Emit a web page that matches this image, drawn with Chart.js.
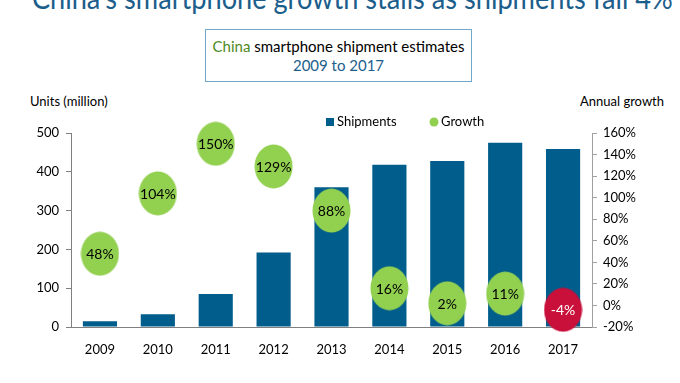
<!DOCTYPE html>
<html>
<head>
<meta charset="utf-8">
<script src="https://cdn.jsdelivr.net/npm/chart.js@4/dist/chart.umd.min.js"></script>
<style>
  html, body { margin: 0; padding: 0; background: #fff; }
  body { width: 680px; height: 383px; position: relative; overflow: hidden; font-family: Lato, "Open Sans", sans-serif; }
  #wrap { position: absolute; left: 0; top: 0; width: 680px; height: 383px; }
  .txt { position: absolute; white-space: nowrap; }
  #headline { left: 0; width: 680px; text-align: center; top: -21px; font-size: 30px; line-height: 36px; color: #1b5e8c; transform: scaleX(0.905); transform-origin: 336px 0; }
  #subbox { left: 205px; top: 29px; width: 267px; height: 53px; border: 1.5px solid #6fa8c8; text-align: center; font-size: 15px; line-height: 19px; padding-top: 7px; box-sizing: border-box; }
  #subbox .g { color: #4f8a24; }
  #subbox .b { color: #1b5e8c; }
  #unitsTitle { left: 30px; top: 93px; font-size: 13px; color: #000; }
  #growthTitle { left: 580px; top: 93px; font-size: 13px; color: #000; }
  #logo { left: 586px; top: 379px; font-size: 18px; font-weight: bold; color: #1b6fb5; }
</style>
</head>
<body>
<div class="txt" id="headline">China's smartphone growth stalls as shipments fall 4%</div>
<div class="txt" id="subbox"><span class="g">China</span> smartphone shipment estimates<br><span class="b">2009 to 2017</span></div>
<div class="txt" id="unitsTitle">Units (million)</div>
<div class="txt" id="growthTitle">Annual growth</div>
<div class="txt" id="logo">Canalys</div>
<div id="wrap"><canvas id="chart" width="680" height="383"></canvas></div>
<script>
const years = ['2009', '2010', '2011', '2012', '2013', '2014', '2015', '2016', '2017'];
const shipments = [15, 33, 85, 192, 360, 418, 428, 475, 459];
const growth = [48, 104, 150, 129, 88, 16, 2, 11, -4];
const unitTicks = [0, 100, 200, 300, 400, 500];
const growthTicks = [-20, 0, 20, 40, 60, 80, 100, 120, 140, 160];

const barColor = '#005d8c';
const greenColor = '#92d050';
const redColor = '#c8103a';

// ellipse shaped marker, a bit taller than wide like the original bubbles
function makeBubble(color){
	let c = document.createElement('canvas');
	c.width = 39;
	c.height = 45;
	let g = c.getContext('2d');
	g.fillStyle = color;
	g.beginPath();
	g.ellipse(19.5, 22.5, 19, 22, 0, 0, Math.PI * 2);
	g.fill();
	return c;
}
const greenBubble = makeBubble(greenColor);
const redBubble = makeBubble(redColor);

const bubbleLabels = {
	id: 'bubbleLabels',
	afterDatasetsDraw(chart){
		const ctx = chart.ctx;
		const meta = chart.getDatasetMeta(1);
		ctx.save();
		ctx.font = '14px Lato';
		ctx.textAlign = 'center';
		ctx.textBaseline = 'middle';
		meta.data.forEach((pt, i) => {
			ctx.fillStyle = growth[i] < 0 ? '#fff' : '#000';
			ctx.fillText(growth[i] + '%', pt.x, pt.y + 1);
		});
		ctx.restore();
	}
};

const topLegend = {
	id: 'topLegend',
	afterDraw(chart){
		const ctx = chart.ctx;
		ctx.save();
		ctx.font = '13px Lato';
		ctx.textBaseline = 'middle';
		ctx.fillStyle = barColor;
		ctx.fillRect(326, 118, 8, 8);
		ctx.fillStyle = '#000';
		ctx.fillText('Shipments', 337, 122);
		ctx.fillStyle = greenColor;
		ctx.beginPath();
		ctx.arc(434, 122, 4.5, 0, Math.PI * 2);
		ctx.fill();
		ctx.fillStyle = '#000';
		ctx.fillText('Growth', 441, 122);
		ctx.restore();
	}
};

const ctx = document.getElementById('chart').getContext('2d');
new Chart(ctx, {
	data: {
		labels: years,
		datasets: [
			{
				type: 'bar',
				label: 'Shipments',
				data: shipments,
				backgroundColor: barColor,
				yAxisID: 'y',
				categoryPercentage: 1.0,
				barPercentage: 0.59,
				order: 2
			},
			{
				type: 'line',
				label: 'Growth',
				data: growth,
				yAxisID: 'y2',
				showLine: false,
				clip: false,
				pointRadius: 20,
				pointStyle: growth.map(v => v < 0 ? redBubble : greenBubble),
				order: 1
			}
		]
	},
	options: {
		responsive: false,
		animation: false,
		events: [],
		layout: { padding: { top: 133, left: 0, right: 0, bottom: 0 } },
		plugins: {
			legend: { display: false },
			tooltip: { enabled: false }
		},
		scales: {
			x: {
				grid: { display: false, drawTicks: false },
				border: { display: true, color: '#808080', width: 1 },
				ticks: { color: '#000', font: { family: 'Lato', size: 13 }, padding: 15 },
				afterFit: (s) => { s.height = 56; }
			},
			y: {
				position: 'left',
				min: 0,
				max: 500,
				afterBuildTicks: (s) => { s.ticks = unitTicks.map(v => ({ value: v })); },
				grid: { drawOnChartArea: false, tickLength: 5, color: '#808080' },
				border: { display: true, color: '#808080', width: 1 },
				ticks: { color: '#000', font: { family: 'Lato', size: 13 }, padding: 7 },
				afterFit: (s) => { s.width = 71; }
			},
			y2: {
				position: 'right',
				min: -20,
				max: 160,
				afterBuildTicks: (s) => { s.ticks = growthTicks.map(v => ({ value: v })); },
				grid: { drawOnChartArea: false, tickLength: 5, color: '#a0a0a0' },
				border: { display: true, color: '#a0a0a0', width: 1 },
				ticks: { color: '#000', font: { family: 'Lato', size: 13 }, padding: 6, callback: (v) => v + '%' },
				afterFit: (s) => { s.width = 88; }
			}
		}
	},
	plugins: [bubbleLabels, topLegend]
});
</script>
</body>
</html>
